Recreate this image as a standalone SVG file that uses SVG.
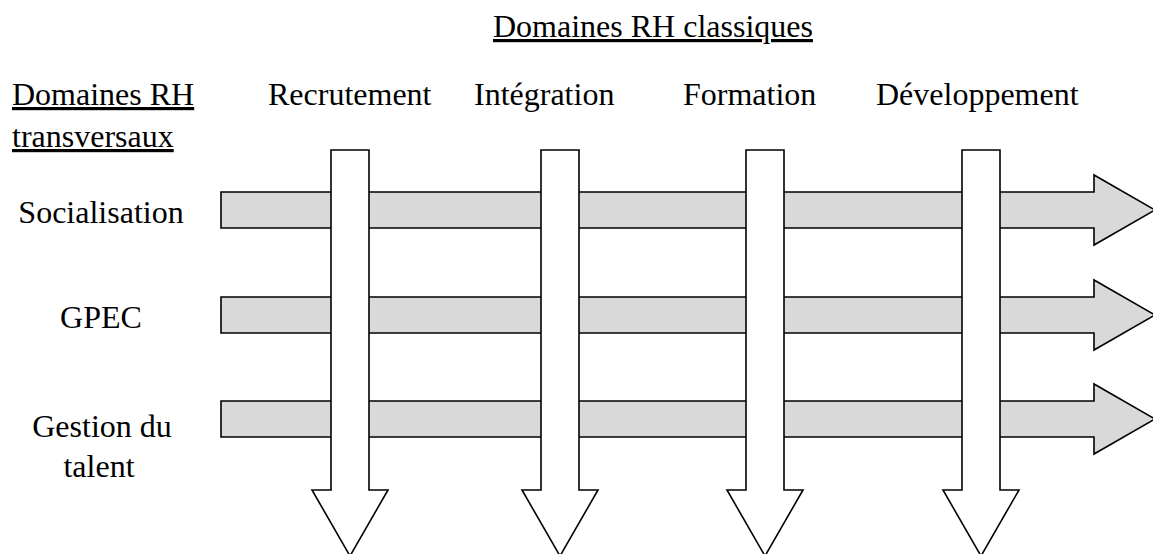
<svg xmlns="http://www.w3.org/2000/svg" width="1153" height="554" viewBox="0 0 1153 554">
<style>
text{font-family:"Liberation Serif","Times New Roman",serif;font-size:32px;fill:#000}
.u{text-decoration:underline}
.m{text-anchor:middle}
.h{fill:#d9d9d9;stroke:#000;stroke-width:1.6;stroke-linejoin:miter}
.v{fill:#fff;stroke:#000;stroke-width:1.6;stroke-linejoin:miter}
</style>
<rect width="1153" height="554" fill="#fff"/>
<g id="titles">
<text id="t-classiques" class="u" x="493" y="37">Domaines RH classiques</text>
<text id="t-transversaux" class="u" x="12" y="105">Domaines RH</text>
<text class="u" x="12" y="147">transversaux</text>
</g>
<g id="connectors">
<g id="h-arrows">
<path id="arr-socialisation" class="h" d="M221,192 H1094 V175 L1155,210 L1094,245 V228 H221 Z"/>
<path id="arr-gpec" class="h" d="M221,297 H1094 V280 L1155,315 L1094,350 V333 H221 Z"/>
<path id="arr-talent" class="h" d="M221,401 H1094 V384 L1155,419 L1094,454 V437 H221 Z"/>
</g>
<g id="v-arrows">
<path id="arr-recrutement" class="v" d="M331,150 H369 V490 H388 L350,556 L312,490 H331 Z"/>
<path id="arr-integration" class="v" d="M541,150 H579 V490 H598 L560,556 L522,490 H541 Z"/>
<path id="arr-formation" class="v" d="M746,150 H784 V490 H803 L765,556 L727,490 H746 Z"/>
<path id="arr-developpement" class="v" d="M962,150 H1000 V490 H1019 L981,556 L943,490 H962 Z"/>
</g>
</g>
<g id="node-recrutement"><text x="268" y="105">Recrutement</text></g>
<g id="node-integration"><text x="474" y="105">Intégration</text></g>
<g id="node-formation"><text x="683" y="105">Formation</text></g>
<g id="node-developpement"><text x="876" y="105">Développement</text></g>
<g id="node-socialisation"><text class="m" x="101" y="223">Socialisation</text></g>
<g id="node-gpec"><text class="m" x="101" y="328">GPEC</text></g>
<g id="node-talent"><text class="m" x="102" y="437">Gestion du</text><text class="m" x="99" y="477">talent</text></g>
</svg>
